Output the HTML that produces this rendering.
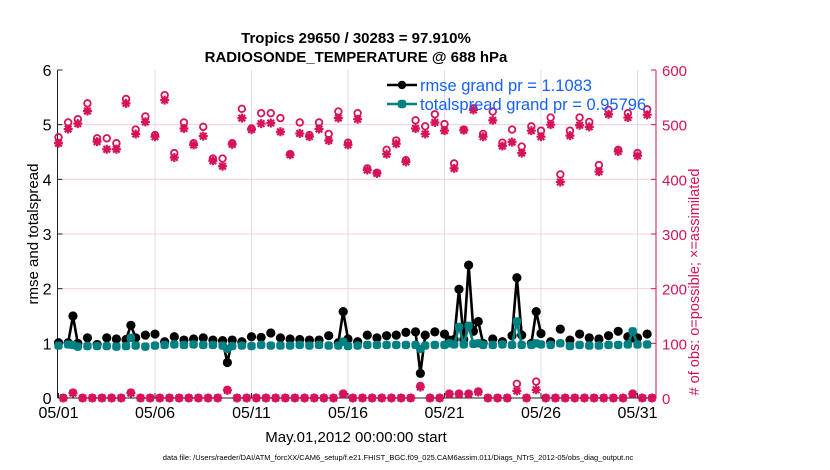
<!DOCTYPE html>
<html><head><meta charset="utf-8"><style>
body{margin:0;background:#fff;}
svg{display:block;font-family:"Liberation Sans",sans-serif;}
</style></head><body>
<svg id="chart" width="830" height="470" viewBox="0 0 830 470">
<text x="356" y="43" text-anchor="middle" font-size="15" font-weight="bold">Tropics 29650 / 30283 = 97.910%</text>
<text x="356" y="62" text-anchor="middle" font-size="15" font-weight="bold">RADIOSONDE_TEMPERATURE @ 688 hPa</text>
<g id="grid"></g>
<g id="axes"></g>
<g id="marks"></g>
<text transform="translate(38,234) rotate(-90)" text-anchor="middle" font-size="15">rmse and totalspread</text>
<text transform="translate(699,282) rotate(-90)" text-anchor="middle" font-size="14.5" fill="#d6135a"># of obs: o=possible; ×=assimilated</text>
<text x="356" y="442" text-anchor="middle" font-size="15">May.01,2012 00:00:00 start</text>
<text x="398" y="460" text-anchor="middle" font-size="7.5">data file: /Users/raeder/DAI/ATM_forcXX/CAM6_setup/f.e21.FHIST_BGC.f09_025.CAM6assim.011/Diags_NTrS_2012-05/obs_diag_output.nc</text>
<g id="legend"></g>
</svg>
<script>
// main synoptic times (00Z/12Z), t = 0, 0.5, ... 30.5 days
const rmseMain=[1.01,1.01,1.0,1.1,0.98,1.1,1.08,1.07,1.1,1.15,1.17,1.03,1.12,1.06,1.08,1.1,1.06,1.05,1.06,1.03,1.12,1.11,1.19,1.1,1.08,1.07,1.06,1.06,1.14,1.01,1.08,1.03,1.15,1.1,1.14,1.15,1.2,1.21,1.15,1.21,1.17,1.07,1.07,1.22,1.0,1.08,1.03,1.14,1.15,1.0,1.18,1.03,1.26,1.06,1.17,1.1,1.08,1.14,1.22,1.12,1.1,1.17];
const spreadMain=[0.96,0.98,0.94,0.95,0.95,0.95,0.94,0.95,0.96,0.94,0.96,0.97,0.98,0.97,0.98,0.97,0.97,0.96,0.95,0.96,0.95,0.97,0.96,0.96,0.96,0.97,0.96,0.97,0.96,0.96,0.95,0.96,0.97,0.97,0.97,0.97,0.97,0.97,0.96,0.97,0.97,0.98,0.98,0.99,0.97,0.97,0.98,0.97,0.97,0.97,0.98,0.97,1.0,0.95,0.97,0.96,0.96,0.97,0.97,0.98,0.98,0.98];
const possMain=[477,504,510,539,475,475,466,547,491,515,481,554,448,504,466,496,438,438,466,529,493,521,521,512,446,504,481,504,483,524,467,521,420,412,454,471,435,508,497,519,501,429,491,530,483,524,467,491,460,497,489,513,409,489,513,505,426,527,454,521,448,528];
const assimMain=[466,492,502,525,469,455,455,539,483,505,478,545,440,493,463,479,434,424,464,512,491,502,503,487,445,484,478,492,471,512,463,510,417,411,446,465,432,493,483,504,489,420,490,527,478,508,461,468,448,489,478,500,395,480,499,496,414,519,451,513,443,518];
// off-hour times (06Z/18Z), t = 0.25, 0.75, ... 30.75 days
const rmseOff=[null,1.5,null,null,null,null,null,1.33,null,null,null,null,null,null,null,null,null,0.65,null,null,null,null,null,null,null,null,null,null,null,1.58,null,null,null,null,null,null,null,0.45,null,null,1.06,1.99,2.43,1.4,null,null,null,2.2,null,1.58,null,null,null,null,null,null,null,null,null,1.1,null,null];
const spreadOff=[null,0.97,null,null,null,null,null,1.1,null,null,null,null,null,null,null,null,null,0.9,null,null,null,null,null,null,null,null,null,null,null,1.03,null,null,null,null,null,null,null,0.9,null,null,1.0,1.3,1.32,1.0,null,null,null,1.4,null,1.0,null,null,null,null,null,null,null,null,null,1.22,null,null];
const possOff=[0,10,0,0,0,0,0,10,0,0,0,0,0,0,0,0,0,15,0,0,0,0,0,0,0,0,0,0,0,8,0,0,0,0,0,0,0,22,0,0,8,8,8,12,0,0,0,26,0,30,0,0,0,0,0,0,0,0,0,8,0,0];
const assimOff=[0,9,0,0,0,0,0,9,0,0,0,0,0,0,0,0,0,14,0,0,0,0,0,0,0,0,0,0,0,7,0,0,0,0,0,0,0,20,0,0,7,7,7,11,0,0,0,13,0,15,0,0,0,0,0,0,0,0,0,7,0,0];
const xTickDays=[0,5,10,15,20,25,30];
const xTickLabels=["05/01","05/06","05/11","05/16","05/21","05/26","05/31"];
const leftTicks=[0,1,2,3,4,5,6];
const rightTicks=[0,100,200,300,400,500,600];

const NS="http://www.w3.org/2000/svg";
const X0=57.5,X1=656,Y0=398,Y1=70,DAY=19.3;
const xs=t=>X0+1+t*DAY;
const yL=v=>Y0-(v/6)*(Y0-Y1);
const yR=c=>Y0-(c/600)*(Y0-Y1);
const CR="#d6135a",TE="#008080";
function mk(p,tag,at){const e=document.createElementNS(NS,tag);for(const k in at)e.setAttribute(k,at[k]);p.appendChild(e);return e;}
const grid=document.getElementById('grid'),axes=document.getElementById('axes'),marks=document.getElementById('marks'),leg=document.getElementById('legend');

const T=[],R=[],S=[],P=[],A=[];
for(let i=0;i<rmseMain.length;i++){
  T.push(i*0.5);R.push(rmseMain[i]);S.push(spreadMain[i]);P.push(possMain[i]);A.push(assimMain[i]);
  if(i<rmseOff.length){T.push(i*0.5+0.25);R.push(rmseOff[i]);S.push(spreadOff[i]);P.push(possOff[i]);A.push(assimOff[i]);}
}

leftTicks.forEach(v=>{if(v>0&&v<6){const l=mk(grid,'line',{x1:X0,x2:X1,y1:yL(v),y2:yL(v),stroke:'#f4d0dc','stroke-width':1});

}});
xTickDays.forEach(d=>{if(d>0){const l=mk(grid,'line',{x1:xs(d),x2:xs(d),y1:Y1,y2:Y0,stroke:'#dcdcdc','stroke-width':1});

}});

let a=mk(axes,'line',{x1:X0,x2:X0,y1:Y1,y2:Y0,stroke:'#222','stroke-width':1});


a=mk(axes,'line',{x1:X0,x2:X1,y1:Y0,y2:Y0,stroke:'#222','stroke-width':1});


a=mk(axes,'line',{x1:X1,x2:X1,y1:Y1,y2:Y0,stroke:CR,'stroke-width':1});


leftTicks.forEach(v=>{const t=mk(axes,'text',{x:X0-6,y:yL(v)+6,'text-anchor':'end','font-size':16});t.textContent=v;


mk(axes,'line',{x1:X0,x2:X0+5,y1:yL(v),y2:yL(v),stroke:'#222'});});
rightTicks.forEach(v=>{const t=mk(axes,'text',{x:X1+6,y:yR(v)+6,'font-size':15,fill:CR});t.textContent=v;


mk(axes,'line',{x1:X1-5,x2:X1,y1:yR(v),y2:yR(v),stroke:CR});});
xTickDays.forEach((d,i)=>{const t=mk(axes,'text',{x:xs(d),y:418,'text-anchor':'middle','font-size':16});t.textContent=xTickLabels[i];


mk(axes,'line',{x1:xs(d),x2:xs(d),y1:Y0,y2:Y0-5,stroke:'#222'});});

function star(g,x,y){const s=4.5;
  const p=mk(g,'path',{d:`M${x-s} ${y}H${x+s}M${x} ${y-s}V${y+s}M${x-3.3} ${y-3.3}L${x+3.3} ${y+3.3}M${x-3.3} ${y+3.3}L${x+3.3} ${y-3.3}`,stroke:CR,'stroke-width':2.2,fill:'none'});
  
  }
T.forEach((t,i)=>{
  const c=mk(marks,'circle',{cx:xs(t),cy:yR(P[i]),r:3.3,fill:'none',stroke:CR,'stroke-width':1.8});
  
  
  star(marks,xs(t),yR(A[i]));
});

function series(vals,color,name,square){
  let seg=[];const segs=[];
  T.forEach((t,i)=>{if(vals[i]==null){if(seg.length)segs.push(seg);seg=[];}else seg.push([xs(t),yL(vals[i])]);});
  if(seg.length)segs.push(seg);
  segs.forEach(s=>{if(s.length>1){const p=mk(marks,'polyline',{points:s.map(q=>q.join(',')).join(' '),fill:'none',stroke:color,'stroke-width':2.6,'stroke-linejoin':'round'});
    
    }});
  T.forEach((t,i)=>{if(vals[i]==null)return;
    const m=square?mk(marks,'rect',{x:xs(t)-4.2,y:yL(vals[i])-4.2,width:8.4,height:8.4,rx:3,fill:color}):mk(marks,'circle',{cx:xs(t),cy:yL(vals[i]),r:4.6,fill:color});
    
    });
}
series(R,'#000','rmse',false);
series(S,TE,'totalspread',true);

[[ '#000','rmse grand pr = 1.1083',90,false],[TE,'totalspread grand pr = 0.95796',109,true]].forEach(([c,txt,y,sq])=>{
  const l=mk(leg,'line',{x1:387,x2:417,y1:y-5,y2:y-5,stroke:c,'stroke-width':2.6});
  
  
  const m=sq?mk(leg,'rect',{x:397.7,y:y-9.3,width:8.6,height:8.6,rx:3,fill:c}):mk(leg,'circle',{cx:402,cy:y-5,r:4.2,fill:c});
  
  
  const t=mk(leg,'text',{x:420,y:y+1,'font-size':16.5,fill:'#1560ff'});t.textContent=txt;
  
  
});
</script>
</body></html>
